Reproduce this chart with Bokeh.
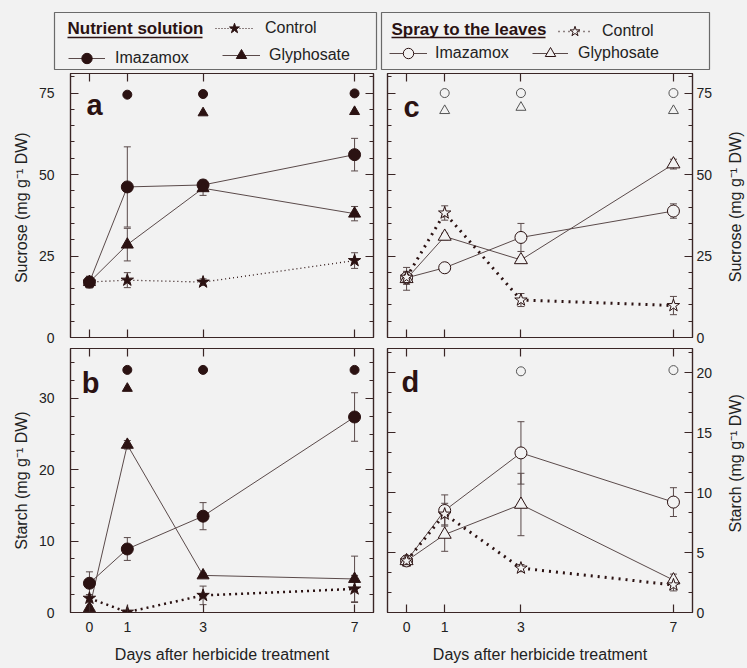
import math
from bokeh.plotting import figure
from bokeh.models import (Range1d, LinearAxis, FixedTicker, SingleIntervalTicker, Whisker, TeeHead,
                          ColumnDataSource, Label, Legend, LegendItem, BoxAnnotation)
from bokeh.layouts import column, row
from bokeh.embed import file_html
from bokeh.resources import INLINE
from bokeh.core.properties import value
from bokeh.core.validation import silence
from bokeh.core.validation.warnings import MISSING_RENDERERS

silence(MISSING_RENDERERS, True)

# ---------------- data ----------------
days = [0, 1, 3, 7]
day_ticks = [0, 1, 3, 7]

# (a) Sucrose - herbicide in nutrient solution
a_imz = [17.0, 46.2, 46.8, 56.1]
a_imz_err = [1.8, 12.3, 1.5, 5.0]
a_gly = [17.0, 28.5, 45.8, 38.0]
a_gly_err = [1.5, 5.0, 2.2, 2.2]
a_ctl = [17.0, 17.6, 17.0, 23.6]
a_ctl_err = [1.5, 2.3, 1.0, 2.4]
a_sig_imz_days = [1, 3, 7]
a_sig_imz_y = [74.5, 74.7, 74.9]
a_sig_gly_days = [3, 7]
a_sig_gly_y = [68.9, 69.3]

# (b) Starch - herbicide in nutrient solution
b_imz = [4.1, 8.9, 13.5, 27.4]
b_imz_err = [1.6, 1.6, 1.9, 3.4]
b_gly = [0.6, 23.5, 5.2, 4.7]
b_gly_err = [0.3, 0.6, 0.3, 3.2]
b_ctl = [2.0, 0.05, 2.4, 3.3]
b_ctl_err = [0.5, 0.1, 1.3, 1.9]
b_sig_imz_days = [1, 3, 7]
b_sig_imz_y = [34.0, 34.0, 34.0]
b_sig_gly_days = [1]
b_sig_gly_y = [31.4]

# (c) Sucrose - spray to the leaves
c_imz = [18.3, 21.4, 30.7, 38.8]
c_imz_err = [2.0, 0.8, 4.3, 2.2]
c_gly = [18.0, 31.0, 23.8, 53.2]
c_gly_err = [3.5, 1.0, 0.8, 1.5]
c_ctl = [18.5, 38.2, 11.5, 9.8]
c_ctl_err = [1.5, 2.2, 2.0, 2.8]
c_sig_imz_days = [1, 3, 7]
c_sig_imz_y = [75.0, 75.0, 75.0]
c_sig_gly_days = [1, 3, 7]
c_sig_gly_y = [69.6, 70.6, 69.6]

# (d) Starch - spray to the leaves
d_imz = [4.3, 8.5, 13.3, 9.2]
d_imz_err = [0.4, 1.3, 2.6, 1.2]
d_gly = [4.3, 6.5, 9.0, 2.7]
d_gly_err = [0.4, 1.4, 2.6, 0.5]
d_ctl = [4.3, 8.2, 3.7, 2.3]
d_ctl_err = [0.4, 0.9, 0.3, 0.5]
d_sig_imz_days = [3, 7]
d_sig_imz_y = [20.1, 20.2]

# ---------------- style ----------------
BG = "#f2f2f2"
AX = "#3a2626"
MK = "#2b1212"
LN = "#5a4a4a"
ERR = "#5a4a4a"
TXT = "#222222"
FONT = "Liberation Sans"
NAN = float("nan")


def add_axis(p, loc, ticker, tick_values, labels, title=None, standoff=8, title_standoff=6):
    ax = LinearAxis(ticker=ticker, axis_line_color=AX, axis_line_width=1.2,
                    major_tick_line_color=AX, major_tick_line_width=1.2,
                    major_tick_in=8, major_tick_out=0,
                    minor_tick_line_color=AX, minor_tick_line_width=1,
                    minor_tick_in=4, minor_tick_out=0)
    if labels:
        ax.major_label_text_font = FONT
        ax.major_label_text_font_size = "14px"
        ax.major_label_text_color = TXT
        ax.major_label_standoff = standoff
    else:
        ax.major_label_overrides = {t: "" for t in tick_values}
        ax.major_label_text_font_size = "0px"
        ax.major_label_standoff = 0
    if title:
        ax.axis_label = title
        ax.axis_label_text_font = FONT
        ax.axis_label_text_font_size = "16px"
        ax.axis_label_text_font_style = "normal"
        ax.axis_label_text_color = TXT
        ax.axis_label_standoff = title_standoff
    p.add_layout(ax, loc)
    return ax


def make_panel(width, height, borders, ymax, y_interval, y_minor, y_side, y_title,
               show_x, letter, letter_xy, series, sigs):
    l, r, t, b = borders
    p = figure(width=width, height=height, x_range=Range1d(-0.5, 7.5), y_range=Range1d(0, ymax),
               x_axis_location=None, y_axis_location=None, toolbar_location=None,
               output_backend="svg",
               min_border_left=l, min_border_right=r, min_border_top=t, min_border_bottom=b,
               background_fill_color=BG, border_fill_color=BG,
               outline_line_color=AX, outline_line_width=1.2)
    p.grid.visible = False
    xt = FixedTicker(ticks=day_ticks, minor_ticks=[])
    yt = SingleIntervalTicker(interval=y_interval, num_minor_ticks=y_minor)
    yvals = list(range(0, int(ymax) + y_interval, y_interval))
    add_axis(p, "below", xt, day_ticks, show_x,
             "Days after herbicide treatment" if show_x else None, standoff=9, title_standoff=11)
    add_axis(p, "above", xt, day_ticks, False)
    if y_side == "left":
        add_axis(p, "left", yt, yvals, True, y_title, standoff=16, title_standoff=6)
        add_axis(p, "right", yt, yvals, False)
    else:
        add_axis(p, "left", yt, yvals, False)
        add_axis(p, "right", yt, yvals, True, None, standoff=4)

    srcs = []
    for s in series:
        vals, errs = s["y"], s["err"]
        src = ColumnDataSource(dict(x=days, y=vals,
                                    upper=[v + e for v, e in zip(vals, errs)],
                                    lower=[v - e for v, e in zip(vals, errs)]))
        srcs.append(src)
        w = Whisker(base="x", upper="upper", lower="lower", source=src, level="underlay",
                    line_color=ERR, line_width=1,
                    upper_head=TeeHead(size=7, line_color=ERR, line_width=1),
                    lower_head=TeeHead(size=7, line_color=ERR, line_width=1))
        p.add_layout(w)
    for s, src in zip(series, srcs):
        p.line("x", "y", source=src, line_color=s["lc"], line_width=s["lw"],
               line_dash=s["dash"])
    for s, src in zip(series, srcs):
        p.scatter("x", "y", source=src, marker=s["marker"], size=s["size"],
                  fill_color=s["fill"], line_color=MK, line_width=1)
    for g in sigs:
        p.scatter(g["x"], g["y"], marker=g["marker"], size=g["size"],
                  fill_color=g["fill"], line_color=g["lc"], line_width=1)
    p.add_layout(Label(x=letter_xy[0], y=letter_xy[1], text=letter, text_font=FONT,
                       text_font_size="29px", text_font_style="bold", text_color=MK,
                       text_baseline="alphabetic"))
    return p


def title_fig(width, height, text, fx, fy):
    # narrow strip that carries the right-hand axis title (reads bottom to top)
    p = figure(width=width, height=height, x_range=Range1d(0, 1), y_range=Range1d(0, 1),
               x_axis_type=None, y_axis_type=None, toolbar_location=None, output_backend="svg",
               min_border_left=0, min_border_right=0, min_border_top=0, min_border_bottom=0,
               background_fill_color=BG, border_fill_color=BG, outline_line_color=None)
    p.grid.visible = False
    p.add_layout(Label(x=fx, y=fy, text=text, angle=math.pi / 2, text_font=FONT,
                       text_font_size="16px", text_color=TXT,
                       text_align="center", text_baseline="middle"))
    return p


def filled(vals, errs, marker, size, dash="solid", lw=1, lc=LN):
    return dict(y=vals, err=errs, marker=marker, size=size, fill=MK, dash=dash, lw=lw, lc=lc)


def open_(vals, errs, marker, size, dash="solid", lw=1, lc=LN):
    return dict(y=vals, err=errs, marker=marker, size=size, fill=BG, dash=dash, lw=lw, lc=lc)


fill_sig_c = dict(fill=MK, lc=MK)
open_sig_c = dict(fill=BG, lc="#555555")

# ---- panel a
pa = make_panel(380, 275, (70, 7, 2, 9), 81, 25, 5, "left", "Sucrose  (mg g\u207b\u00b9 DW)",
                False, "a", (-0.08, 71.3),
                [filled(a_imz, a_imz_err, "circle", 12),
                 filled(a_gly, a_gly_err, "triangle", 12),
                 filled(a_ctl, a_ctl_err, "star", 13, dash="1 3", lw=1.3, lc=MK)],
                [dict(x=a_sig_imz_days, y=a_sig_imz_y, marker="circle", size=9, **fill_sig_c),
                 dict(x=a_sig_gly_days, y=a_sig_gly_y, marker="triangle", size=10, **fill_sig_c)])

# ---- panel b
pb = make_panel(380, 320, (70, 7, 2, 54), 37, 10, 4, "left", "Starch (mg g\u207b\u00b9 DW)",
                True, "b", (-0.2, 32.2),
                [filled(b_imz, b_imz_err, "circle", 12),
                 filled(b_gly, b_gly_err, "triangle", 12),
                 filled(b_ctl, b_ctl_err, "star", 13, dash="2 4", lw=2.5, lc=MK)],
                [dict(x=b_sig_imz_days, y=b_sig_imz_y, marker="circle", size=9, **fill_sig_c),
                 dict(x=b_sig_gly_days, y=b_sig_gly_y, marker="triangle", size=10, **fill_sig_c)])

# ---- panel c
pc = make_panel(336, 275, (7, 24, 2, 9), 81, 25, 5, "right", None,
                False, "c", (-0.08, 70.7),
                [open_(c_imz, c_imz_err, "circle", 12),
                 open_(c_gly, c_gly_err, "triangle", 13),
                 open_(c_ctl, c_ctl_err, "star", 13, dash="2 5", lw=3, lc=MK)],
                [dict(x=c_sig_imz_days, y=c_sig_imz_y, marker="circle", size=9, **open_sig_c),
                 dict(x=c_sig_gly_days, y=c_sig_gly_y, marker="triangle", size=10, **open_sig_c)])
tc = title_fig(30, 275, "Sucrose (mg g\u207b\u00b9 DW)", 0.62, 0.495)

# ---- panel d
pd_ = make_panel(336, 320, (7, 24, 2, 54), 22, 5, 3, "right", None,
                 True, "d", (-0.13, 19.25),
                 [open_(d_imz, d_imz_err, "circle", 12),
                  open_(d_gly, d_gly_err, "triangle", 13),
                  open_(d_ctl, d_ctl_err, "star", 13, dash="2 5", lw=3, lc=MK)],
                 [dict(x=d_sig_imz_days, y=d_sig_imz_y, marker="circle", size=9, **open_sig_c)])
td = title_fig(30, 320, "Starch (mg g\u207b\u00b9 DW)", 0.62, 0.565)


# ---------------- legend boxes ----------------
def legend_fig(width, height, borders, fw, fh, title, title_x, title_y, title_w, entries, fill):
    l, r, t, b = borders
    p = figure(width=width, height=height, x_range=Range1d(0, fw), y_range=Range1d(0, fh),
               x_axis_type=None, y_axis_type=None, toolbar_location=None, output_backend="svg",
               min_border_left=l, min_border_right=r, min_border_top=t, min_border_bottom=b,
               background_fill_color=BG, border_fill_color=BG,
               outline_line_color="#6a6a6a", outline_line_width=1.2)
    p.grid.visible = False
    p.add_layout(Label(x=title_x, y=title_y, text=title, text_font=FONT, text_font_size="17px",
                       text_font_style="bold", text_color=MK, text_baseline="alphabetic"))
    p.add_layout(BoxAnnotation(left=title_x, right=title_x + title_w, bottom=31.3, top=32.7,
                               fill_color=MK, fill_alpha=1, line_alpha=0))
    for e in entries:
        rl = p.line(x=[NAN], y=[NAN], line_color=e["lc"], line_width=e["lw"], line_dash=e["dash"])
        rm = p.scatter(x=[NAN], y=[NAN], marker=e["marker"], fill_color=fill, line_color=MK,
                       line_width=1)
        leg = Legend(items=[LegendItem(label=value(e["label"]), renderers=[rl, rm])],
                     location=e["loc"], glyph_width=e["gw"], glyph_height=26,
                     label_standoff=e["so"], padding=0, margin=0, spacing=0,
                     border_line_color=None, background_fill_alpha=0,
                     label_text_font=FONT, label_text_font_size="16px", label_text_color=TXT)
        p.add_layout(leg)
    return p


legL = legend_fig(380, 71, (54, 4, 12, 2), 322, 57, "Nutrient solution", 13, 41.5, 135, [
    dict(label="Control", marker="star", lc=MK, lw=1.2, dash="1 2", loc=(161, 28), gw=38, so=12),
    dict(label="Imazamox", marker="circle", lc=LN, lw=1, dash="solid", loc=(14, -2), gw=37, so=10),
    dict(label="Glyphosate", marker="triangle", lc=LN, lw=1, dash="solid", loc=(168, 1), gw=38, so=9),
], MK)

legR = legend_fig(366, 71, (1, 37, 12, 2), 328, 57, "Spray to the leaves", 10, 40.5, 154, [
    dict(label="Control", marker="star", lc=MK, lw=1.5, dash="1 4", loc=(177, 25), gw=33, so=11),
    dict(label="Imazamox", marker="circle", lc=LN, lw=1, dash="solid", loc=(8, 3), gw=38, so=8),
    dict(label="Glyphosate", marker="triangle", lc=LN, lw=1, dash="solid", loc=(151, 3), gw=36, so=10),
], BG)

layout = column(row(legL, legR, spacing=0), row(pa, pc, tc, spacing=0),
                row(pb, pd_, td, spacing=0), spacing=0)

html = file_html(layout, INLINE)
html = html.replace("</head>", "<style>html,body{background:#f2f2f2;}</style></head>", 1)
open("out.html", "w").write(html)
